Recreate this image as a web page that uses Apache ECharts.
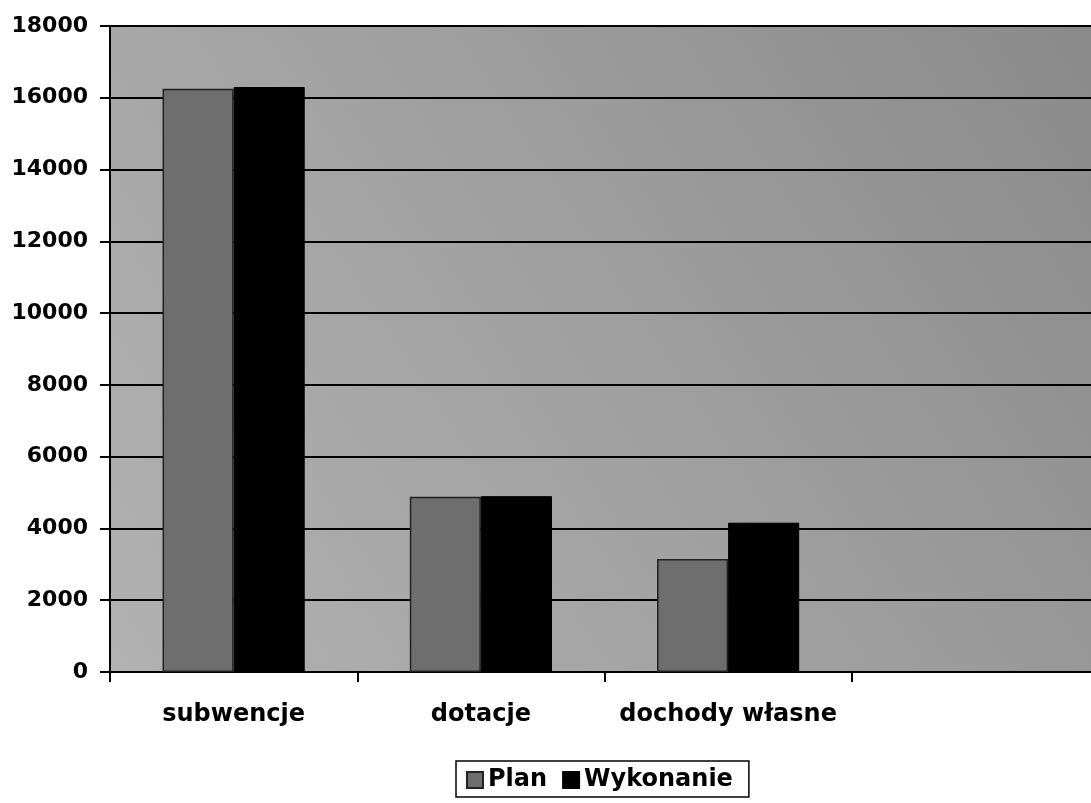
<!DOCTYPE html>
<html>
<head>
<meta charset="utf-8">
<script src="https://cdn.jsdelivr.net/npm/echarts@6/dist/echarts.min.js"></script>
<style>
html,body{margin:0;padding:0;background:#fff;overflow:hidden;width:1091px;height:803px;}
#chart{width:1099px;height:803px;}
</style>
</head>
<body>
<div id="chart"></div>
<script>
var categories = ['subwencje', 'dotacje', 'dochody własne', ''];
var planValues = [16250, 4880, 3150, null];
var wykonanieValues = [16300, 4900, 4160, null];
var seriesNames = ['Plan', 'Wykonanie'];
var yMin = 0, yMax = 18000, yStep = 2000;

var font = 'DejaVu Sans';
var chart = echarts.init(document.getElementById('chart'));
chart.setOption({
  animation: false,
  backgroundColor: '#ffffff',
  grid: {
    left: 110, right: 0, top: 26, bottom: 131,
    show: true,
    borderWidth: 0,
    backgroundColor: {
      type: 'linear', x: 0, y: 1, x2: 1, y2: 0,
      colorStops: [
        {offset: 0, color: '#b2b2b2'},
        {offset: 0.5, color: '#a0a0a0'},
        {offset: 1, color: '#8a8a8a'}
      ]
    }
  },
  legend: {
    data: seriesNames,
    left: 456, top: 761,
    orient: 'horizontal',
    itemWidth: 16, itemHeight: 16,
    itemGap: 15,
    padding: [7, 16, 5, 10],
    borderColor: '#000', borderWidth: 1.5,
    icon: 'rect',
    textStyle: {fontFamily: font, fontWeight: 'bold', fontSize: 24, color: '#000'}
  },
  xAxis: {
    type: 'category',
    data: categories,
    axisLine: {show: true, lineStyle: {color: '#000', width: 2}},
    axisTick: {show: true, interval: 0, length: 10, lineStyle: {color: '#000', width: 2}, alignWithLabel: false},
    axisLabel: {interval: 0, fontFamily: font, fontWeight: 'bold', fontSize: 24, color: '#000', margin: 31},
    splitLine: {show: false}
  },
  yAxis: {
    type: 'value',
    min: yMin, max: yMax, interval: yStep,
    axisLine: {show: true, lineStyle: {color: '#000', width: 2}},
    axisTick: {show: true, length: 10, lineStyle: {color: '#000', width: 2}},
    axisLabel: {fontFamily: font, fontWeight: 'bold', fontSize: 22, color: '#000', margin: 22,
      formatter: function (v) { return String(v); }},
    splitLine: {show: true, lineStyle: {color: '#000', width: 2}}
  },
  series: [
    {
      name: seriesNames[0], type: 'bar', data: planValues,
      barGap: '0%', barCategoryGap: '42.5%',
      itemStyle: {color: '#6e6e6e', borderColor: '#222', borderWidth: 1.5}
    },
    {
      name: seriesNames[1], type: 'bar', data: wykonanieValues,
      barGap: '0%', barCategoryGap: '42.5%',
      itemStyle: {color: '#000', borderColor: '#000', borderWidth: 1}
    }
  ]
});
</script>
</body>
</html>
